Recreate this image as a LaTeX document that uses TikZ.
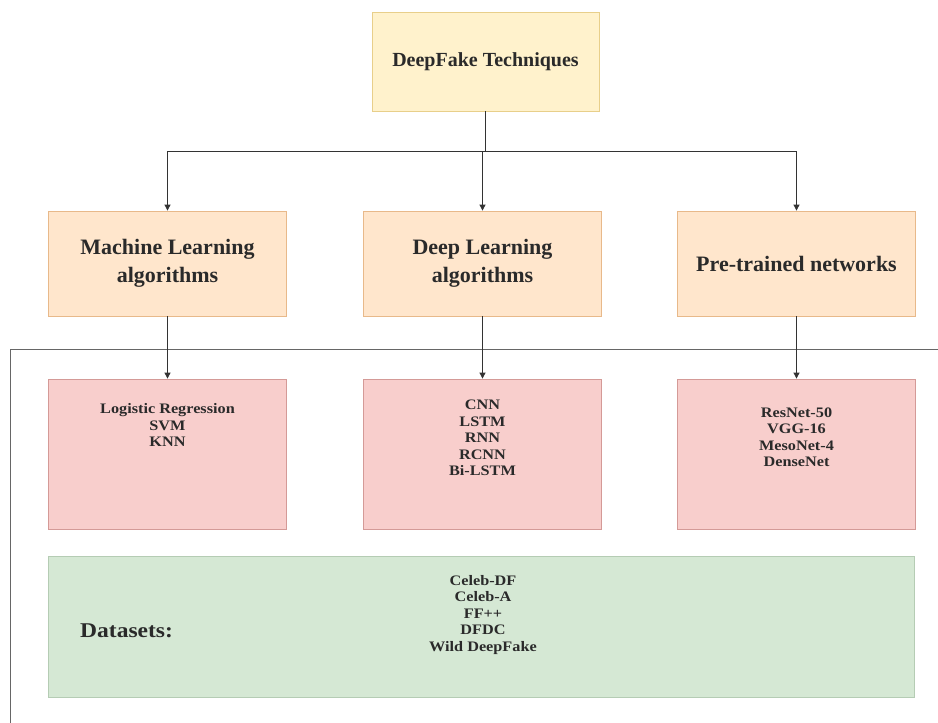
\documentclass[tikz,border=0pt]{standalone}
\usepackage{fontspec}
\setmainfont{Liberation Serif}
\newfontfamily\widefont[FakeStretch=1.12]{Liberation Serif}
\usetikzlibrary{arrows.meta}
\definecolor{topfill}{HTML}{FFF2CC}
\definecolor{topdraw}{HTML}{E8CF8A}
\definecolor{midfill}{HTML}{FFE6CC}
\definecolor{middraw}{HTML}{E8B98A}
\definecolor{pinkfill}{HTML}{F8CECC}
\definecolor{pinkdraw}{HTML}{D49A97}
\definecolor{greenfill}{HTML}{D5E8D4}
\definecolor{greendraw}{HTML}{B5CCB4}
\definecolor{txt}{HTML}{2A2A2A}
\begin{document}
\begin{tikzpicture}[x=1pt,y=-1pt,
  box/.style={draw, line width=0.8pt, inner sep=0pt, text=txt, font=\bfseries, align=center},
  topbox/.style={box, fill=topfill, draw=topdraw, minimum width=227pt, minimum height=99pt, font=\bfseries\fontsize{20}{24}\selectfont},
  midbox/.style={box, fill=midfill, draw=middraw, minimum width=238pt, minimum height=105pt, font=\bfseries\fontsize{22}{28}\selectfont},
  pinkbox/.style={box, fill=pinkfill, draw=pinkdraw, minimum width=238pt, minimum height=150pt},
  greenbox/.style={box, fill=greenfill, draw=greendraw, minimum width=866pt, minimum height=141pt},
  list/.style={text=txt, inner sep=0pt, align=center, font=\widefont\bfseries\fontsize{14.5}{16.5}\selectfont},
  conn/.style={draw=black!80, line width=0.8pt},
  arr/.style={conn, -{Triangle[length=6pt,width=6pt]}}
]
\useasboundingbox (0,0) rectangle (938,723);
\fill[white] (0,0) rectangle (938,723);
% frame
\draw[conn, draw=black!60] (938,349) -- (10,349) -- (10,723);
% top
\node[topbox] (top) at (485.5,61.5) {DeepFake Techniques};
% middle
\node[midbox] (ml) at (167.5,263.5) {Machine Learning\\algorithms};
\node[midbox] (dl) at (482.5,263.5) {Deep Learning\\algorithms};
\node[midbox] (pt) at (796.5,263.5) {Pre-trained networks};
% pink
\node[pinkbox] (p1) at (167.5,454) {};
\node[pinkbox] (p2) at (482.5,454) {};
\node[pinkbox] (p3) at (796.5,454) {};
\node[list] (l1) at (167.5,425) {Logistic Regression\\SVM\\KNN};
\node[list] (l2) at (482.5,438) {CNN\\LSTM\\RNN\\RCNN\\Bi-LSTM};
\node[list] (l3) at (796.5,437) {ResNet-50\\VGG-16\\MesoNet-4\\DenseNet};
% green
\node[greenbox] (ds) at (481,626.5) {};
\node[list] (dsl) at (483,615) {Celeb-DF\\Celeb-A\\FF++\\DFDC\\Wild DeepFake};
\node[text=txt, inner sep=0pt, font=\widefont\bfseries\fontsize{21}{24}\selectfont, anchor=west] (dst) at (80,631) {Datasets:};
% connectors
\coordinate (j) at (top.south |- 0,151);
\draw[conn] (top.south) -- (j);
\draw[arr] (ml.north |- j) -- (ml.north);
\draw[arr] (dl.north |- j) -- (dl.north);
\draw[arr] (pt.north |- j) -- (pt.north);
\draw[conn] (ml.north |- j) -- (pt.north |- j);
\draw[arr] (ml.south) -- (p1.north);
\draw[arr] (dl.south) -- (p2.north);
\draw[arr] (pt.south) -- (p3.north);
\end{tikzpicture}
\end{document}
